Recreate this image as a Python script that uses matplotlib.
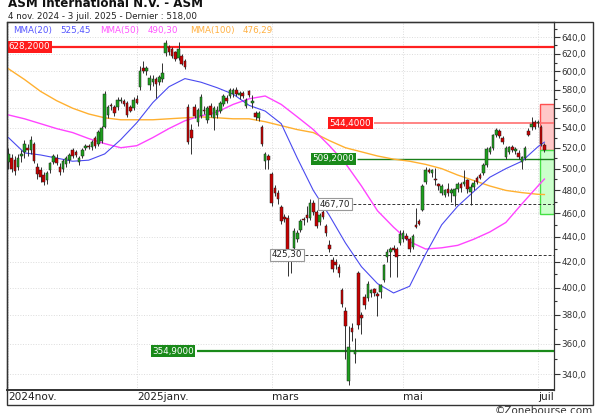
import numpy as np
import matplotlib
matplotlib.use('Agg')
import matplotlib.pyplot as plt
from matplotlib.patches import Rectangle
from matplotlib.ticker import FixedLocator, FuncFormatter, NullFormatter
from matplotlib.transforms import Bbox, TransformedBbox

## daily candles, 4 nov. 2024 -> 3 juil. 2025
opens = [506, 510, 508, 502, 512, 516, 520, 518, 524, 502, 499, 494, 489, 499, 506, 510, 502, 500, 504, 508,
         518, 516, 506, 512, 520, 522, 521, 530, 524, 527, 541, 553, 563, 561, 561, 568, 568, 566, 561, 560,
         570, 583, 604, 600, 585, 588, 592, 588, 591, 621, 628, 626, 622, 615, 618, 612, 561, 538, 561, 546,
         552, 558, 548, 562, 550, 553, 557, 564, 571, 573, 575, 580, 574, 576, 562, 578, 566, 555, 550, 541,
         507, 512, 495, 482, 478, 465, 457, 456, 421, 431, 438, 446, 455, 458, 456, 469, 461, 452, 461, 449,
         433, 421, 420, 416, 398, 383, 336, 371, 353, 411, 380, 393, 392, 396, 399, 395, 397, 406, 424, 428,
         431, 430, 435, 438, 441, 438, 432, 450, 453, 463, 488, 499, 496, 490, 486, 478, 476, 481, 478, 475,
         481, 486, 486, 489, 479, 483, 491, 494, 496, 503, 516, 520, 533, 537, 530, 511, 516, 521, 517, 515,
         506, 510, 537, 541, 546, 545, 541, 523]
highs = [520, 514, 512, 514, 518, 528, 524, 532, 526, 505, 502, 497, 498, 506, 514, 514, 505, 509, 512, 515,
         520, 518, 512, 520, 524, 524, 528, 532, 538, 542, 578, 563, 566, 563, 572, 572, 570, 568, 563, 572,
         574, 606, 612, 606, 596, 596, 594, 596, 610, 637, 631, 628, 624, 634, 620, 614, 564, 544, 564, 560,
         575, 562, 562, 565, 562, 562, 568, 575, 574, 582, 582, 583, 578, 578, 571, 580, 574, 557, 557, 543,
         516, 514, 497, 485, 480, 467, 459, 458, 426, 447, 446, 455, 457, 466, 472, 471, 463, 460, 463, 451,
         437, 424, 422, 418, 400, 386, 372, 374, 364, 413, 382, 395, 405, 399, 400, 397, 403, 418, 430, 432,
         433, 432, 446, 446, 443, 440, 442, 464, 455, 486, 502, 501, 500, 501, 487, 486, 481, 487, 482, 482,
         488, 488, 499, 490, 486, 489, 493, 496, 505, 521, 522, 534, 540, 539, 532, 522, 522, 523, 521, 518,
         512, 522, 540, 551, 548, 548, 543, 525]
lows = [500, 497, 494, 499, 506, 510, 512, 514, 505, 490, 488, 485, 486, 496, 504, 503, 494, 497, 502, 505,
        510, 511, 503, 510, 518, 519, 518, 520, 522, 525, 540, 550, 558, 552, 558, 565, 562, 551, 556, 558,
        564, 580, 598, 596, 580, 584, 571, 585, 588, 618, 619, 615, 612, 613, 607, 603, 524, 514, 550, 542,
        550, 554, 545, 551, 538, 550, 555, 562, 566, 571, 572, 573, 570, 571, 560, 572, 560, 548, 547, 522,
        500, 500, 466, 475, 468, 451, 452, 409, 411, 429, 436, 444, 450, 452, 454, 458, 447, 450, 455, 441,
        428, 412, 414, 408, 386, 350, 333, 362, 347, 370, 367, 384, 390, 393, 394, 379, 392, 404, 420, 408,
        428, 408, 433, 436, 437, 428, 430, 447, 450, 462, 486, 496, 492, 485, 480, 476, 474, 475, 470, 466,
        479, 479, 484, 478, 467, 480, 486, 490, 494, 502, 514, 518, 531, 530, 524, 509, 514, 516, 514, 509,
        500, 508, 532, 538, 539, 541, 522, 516]
closes = [514, 500, 498, 510, 514, 524, 518, 528, 507, 495, 492, 488, 496, 505, 512, 505, 497, 507, 510, 513,
          512, 513, 510, 518, 522, 521, 526, 522, 536, 540, 575, 561, 562, 555, 569, 569, 564, 553, 557, 569,
          566, 600, 600, 604, 593, 592, 586, 594, 598, 633, 622, 618, 614, 626, 609, 605, 526, 530, 552, 558,
          572, 557, 560, 553, 560, 558, 566, 573, 568, 579, 580, 575, 576, 573, 569, 574, 568, 551, 555, 524,
          514, 508, 469, 478, 472, 453, 455, 423, 424, 445, 443, 453, 454, 456, 469, 461, 449, 458, 457, 443,
          430, 414, 417, 411, 388, 372, 358, 368, 355, 373, 378, 387, 403, 398, 396, 394, 402, 417, 428, 430,
          429, 424, 442, 443, 438, 430, 441, 448, 451, 484, 499, 497, 499, 489, 484, 484, 480, 478, 480, 481,
          486, 482, 488, 481, 483, 487, 488, 491, 503, 519, 520, 533, 538, 532, 526, 520, 521, 518, 519, 511,
          511, 520, 533, 544, 541, 546, 524, 518]

## moving averages, read every 5 sessions
ma_idx = list(range(0, 166, 5)) + [167]
ma20 = [530, 515, 513, 510, 507, 508, 514, 528, 545, 566, 583, 592, 588, 582, 575, 563, 557, 544, 510, 480,
        458, 435, 416, 403, 396, 401, 426, 450, 466, 479, 492, 500, 507, 521, 525.45]
ma50 = [553, 549, 544, 539, 535, 529, 524, 520, 522, 530, 539, 547, 552, 556, 564, 570, 573, 564, 551, 538,
        522, 505, 484, 462, 448, 436, 430, 431, 433, 438, 444, 452, 468, 484, 490.30]
ma100 = [603, 591, 578, 568, 560, 554, 550, 548, 548, 548, 549, 550, 551, 550, 549, 549, 546, 542, 538, 535,
         527, 520, 516, 512, 509, 507, 504, 500, 494, 489, 484, 480, 478, 476.5, 476.29]

## price levels and their labels
levels = [628.2, 544.4, 509.2, 467.70, 425.30, 354.9]
level_labels = ['628,2000', '544,4000', '509,2000', '467,70', '425,30', '354,9000']
zone_top, zone_mid, zone_bot = 564, 518, 459.5

month_pos = [0, 40, 82, 123, 165]
month_lab = ['2024nov.', '2025janv.', 'mars', 'mai', 'juil.']
y_major = list(range(340, 641, 20))
y_minor = [v for v in range(330, 660, 10) if v not in y_major]

##layout (pixels)
W, H = 600, 413
def fx(px): return px / W
def fy(py): return 1 - py / H
L, R, T, B = 7, 554, 22, 390
FS = 6.3

fig = plt.figure(figsize=(6, 4.13), dpi=100)
ax = fig.add_axes([fx(L), fy(B), fx(R) - fx(L), fy(T) - fy(B)])
ax.set_yscale('log')
ax.set_xlim(-0.45, 170.0)
ax.set_ylim(330.1, 658.3)
def ax_x(px): return (px - L) / (R - L)

# zones on the right
ax.add_patch(Rectangle((165.6, zone_mid), 170 - 165.6, zone_top - zone_mid, fc='#ffc8c8', ec='#ff5050', lw=1, zorder=2))
ax.add_patch(Rectangle((165.6, zone_bot), 170 - 165.6, zone_mid - zone_bot, fc='#ccffcc', ec='#44e044', lw=1, zorder=2))

# levels
lv_style = [  # line color, lw, ls, line start px, label center px, box fc, text color, box ec
    ('#ff2020', 1.6, '-', L, 29.5, '#ff1a1a', 'white', 'none'),
    ('#ff7070', 1.2, '-', 374, 350.5, '#ff1a1a', 'white', 'none'),
    ('#1a7f1a', 1.0, '-', 357, 333.5, '#1a8a1a', 'white', 'none'),
    ('#333333', 0.7, (0, (3, 2)), 353, 335, 'white', '#222222', '#999999'),
    ('#333333', 0.7, (0, (3, 2)), 305, 287, 'white', '#222222', '#999999'),
    ('#1a8a1a', 1.6, '-', 197, 173, '#1a8a1a', 'white', 'none'),
]
for val, lab, st in zip(levels, level_labels, lv_style):
    col, lw, ls, x0, xc, fc, tc, ec = st
    ax.hlines(val, ax_x(x0), 1, transform=ax.get_yaxis_transform(), color=col, lw=lw, linestyles=[ls], zorder=3)
    ax.text(ax_x(xc), val, lab, transform=ax.get_yaxis_transform(), ha='center', va='center',
            fontsize=FS, color=tc, zorder=8, clip_on=False,
            bbox=dict(boxstyle='square,pad=0.18', fc=fc, ec=ec, lw=0.8))

# moving averages
ax.plot(ma_idx, ma100, color='#ffb030', lw=1.0, zorder=3)
ax.plot(ma_idx, ma50, color='#ff44ff', lw=1.0, zorder=3)
ax.plot(ma_idx, ma20, color='#4a4af0', lw=0.8, zorder=3)

# candles
o, h, l, c = map(np.array, (opens, highs, lows, closes))
idx = np.arange(len(c))
up = c >= o
ax.vlines(idx, l, h, color='#303030', lw=0.7, zorder=4)
ax.bar(idx, np.maximum(np.abs(c - o), 0.7), bottom=np.minimum(o, c), width=0.8,
       color=np.where(up, '#1ea01e', '#c80000'), edgecolor='#202020', linewidth=0.35, zorder=5)

# grid and ticks
ax.yaxis.tick_right()
ax.yaxis.set_major_locator(FixedLocator(y_major))
ax.yaxis.set_minor_locator(FixedLocator(y_minor))
ax.yaxis.set_major_formatter(FuncFormatter(lambda v, p: f'{v:.1f}'.replace('.', ',')))
ax.yaxis.set_minor_formatter(NullFormatter())
ax.tick_params(axis='y', which='major', labelsize=FS, length=4, width=0.8, pad=1.5, colors='#333333')
ax.tick_params(axis='y', which='minor', length=2.5, width=0.8, colors='#333333')
ax.set_xticks(month_pos)
ax.set_xticklabels([])
ax.tick_params(axis='x', length=0)
ax.grid(True, which='major', color='#dcdcdc', linestyle=':', linewidth=0.7, zorder=0)
for s in ax.spines.values():
    s.set_color('#333333')
    s.set_linewidth(0.9)
ax.spines['bottom'].set_linewidth(1.4)

# month labels, cut at the price axis like the original
clip = TransformedBbox(Bbox([[0, -0.2], [1, 1]]), ax.transAxes)
for pos, lab in zip(month_pos, month_lab):
    t = ax.text(pos, -0.019, lab, transform=ax.get_xaxis_transform(), ha='left', va='center',
                fontsize=7.6, color='#222222')
    t.set_clip_on(True)
    t.set_clip_box(clip)

# outer frame
fig.patches.append(Rectangle((fx(L), fy(405)), fx(593) - fx(L), fy(T) - fy(405), transform=fig.transFigure,
                             fill=False, ec='#333333', lw=1.0))

# titles and legend
fig.text(fx(8), fy(7), 'ASM International N.V. - ASM', fontsize=8.6, fontweight='bold', va='baseline', color='#111111')
fig.text(fx(8), fy(19), '4 nov. 2024 - 3 juil. 2025 - Dernier : 518,00', fontsize=FS, va='baseline', color='#222222')
leg = [('MMA(20)', 13, '#5555ff'), ('525,45', 60, '#5555ff'),
       ('MMA(50)', 100, '#ff55ff'), ('490,30', 148, '#ff55ff'),
       ('MMA(100)', 190, '#ffb040'), ('476,29', 243, '#ffb040')]
for txt, px, col in leg:
    fig.text(fx(px), fy(30), txt, fontsize=FS, color=col, va='center', ha='left')
fig.text(fx(593), fy(406), '\u00a9Zonebourse.com', fontsize=7.5, color='#333333', ha='right', va='top')

fig.savefig('out.png', dpi=100)
